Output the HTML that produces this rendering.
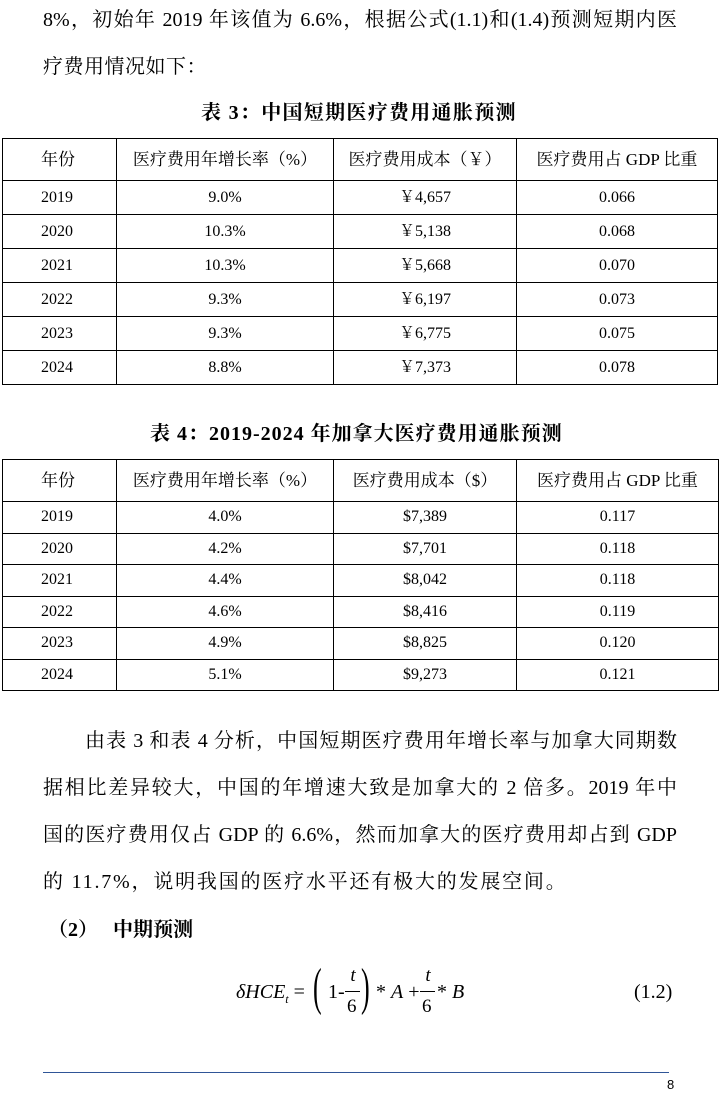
<!DOCTYPE html>
<html><head><meta charset="utf-8"><style>
body{margin:0;width:727px;height:1098px;background:#fff;position:relative;overflow:hidden;font-family:"Liberation Serif","Noto Serif CJK SC","Noto Sans CJK SC",serif;color:#000}
.t{position:absolute;white-space:nowrap;font-size:20px;line-height:26px}
.j{position:absolute;width:634px;font-size:20px;line-height:26px;text-align:justify;text-align-last:justify;white-space:nowrap}
table{position:absolute;border-collapse:collapse;font-size:16px;table-layout:fixed}
td{border:1px solid #000;text-align:center;padding:0;vertical-align:middle;line-height:18px}
td:first-child{text-align:left;padding-left:38px}
.h td{font-size:17px}
.cap{font-weight:bold;font-size:20px}
</style></head><body>
<div class="j" style="left:43px;top:7px">8%，初始年 2019 年该值为 6.6%，根据公式(1.1)和(1.4)预测短期内医</div>
<div class="t" style="left:43px;top:54px;letter-spacing:0.5px">疗费用情况如下：</div>
<div class="t cap" style="left:201px;top:100px;letter-spacing:1.3px">表 3：中国短期医疗费用通胀预测</div>
<table style="left:2px;top:138px;width:715px">
<colgroup><col style="width:114px"><col style="width:217px"><col style="width:183px"><col style="width:201px"></colgroup>
<tr class="h" style="height:42px"><td>年份</td><td>医疗费用年增长率（%）</td><td>医疗费用成本（￥）</td><td>医疗费用占 GDP 比重</td></tr>
<tr style="height:34px"><td>2019</td><td>9.0%</td><td>￥4,657</td><td>0.066</td></tr>
<tr style="height:34px"><td>2020</td><td>10.3%</td><td>￥5,138</td><td>0.068</td></tr>
<tr style="height:34px"><td>2021</td><td>10.3%</td><td>￥5,668</td><td>0.070</td></tr>
<tr style="height:34px"><td>2022</td><td>9.3%</td><td>￥6,197</td><td>0.073</td></tr>
<tr style="height:34px"><td>2023</td><td>9.3%</td><td>￥6,775</td><td>0.075</td></tr>
<tr style="height:34px"><td>2024</td><td>8.8%</td><td>￥7,373</td><td>0.078</td></tr>
</table>
<div class="t cap" style="left:150px;top:421px;letter-spacing:1px">表 4：2019-2024 年加拿大医疗费用通胀预测</div>
<table style="left:2px;top:459px;width:716px">
<colgroup><col style="width:114px"><col style="width:217px"><col style="width:183px"><col style="width:202px"></colgroup>
<tr class="h" style="height:42px"><td>年份</td><td>医疗费用年增长率（%）</td><td>医疗费用成本（$）</td><td>医疗费用占 GDP 比重</td></tr>
<tr style="height:31.5px"><td>2019</td><td>4.0%</td><td>$7,389</td><td>0.117</td></tr>
<tr style="height:31.5px"><td>2020</td><td>4.2%</td><td>$7,701</td><td>0.118</td></tr>
<tr style="height:31.5px"><td>2021</td><td>4.4%</td><td>$8,042</td><td>0.118</td></tr>
<tr style="height:31.5px"><td>2022</td><td>4.6%</td><td>$8,416</td><td>0.119</td></tr>
<tr style="height:31.5px"><td>2023</td><td>4.9%</td><td>$8,825</td><td>0.120</td></tr>
<tr style="height:31.5px"><td>2024</td><td>5.1%</td><td>$9,273</td><td>0.121</td></tr>
</table>
<div class="j" style="left:85px;top:728px;width:592px">由表 3 和表 4 分析，中国短期医疗费用年增长率与加拿大同期数</div>
<div class="j" style="left:43px;top:775px">据相比差异较大，中国的年增速大致是加拿大的 2 倍多。2019 年中</div>
<div class="j" style="left:43px;top:822px">国的医疗费用仅占 GDP 的 6.6%，然而加拿大的医疗费用却占到 GDP</div>
<div class="t" style="left:43px;top:869px;letter-spacing:1.8px">的 11.7%，说明我国的医疗水平还有极大的发展空间。</div>
<div class="t" style="left:48px;top:917px;font-weight:bold">（2）&nbsp;&nbsp;&nbsp;中期预测</div>
<div class="t" style="left:236px;top:979px;font-size:20px"><i>δHCE<sub style="font-size:12px">t</sub></i> =</div>
<div class="t" style="left:313px;top:958px;font-size:52px;line-height:60px;transform:scaleX(0.5);transform-origin:left">(</div>
<div class="t" style="left:328px;top:979px;font-size:20px">1-</div>
<div class="t" style="left:347px;top:963px;font-size:19px;width:12px;text-align:center"><i>t</i></div>
<div style="position:absolute;left:345px;top:991px;width:15px;border-top:1px solid #000"></div>
<div class="t" style="left:347px;top:994px;font-size:19px">6</div>
<div class="t" style="left:361px;top:958px;font-size:52px;line-height:60px;transform:scaleX(0.5);transform-origin:left">)</div>
<div class="t" style="left:376px;top:979px;font-size:20px">* <i>A</i> +</div>
<div class="t" style="left:422px;top:963px;font-size:19px;width:12px;text-align:center"><i>t</i></div>
<div style="position:absolute;left:420px;top:991px;width:15px;border-top:1px solid #000"></div>
<div class="t" style="left:422px;top:994px;font-size:19px">6</div>
<div class="t" style="left:437px;top:979px;font-size:20px">* <i>B</i></div>
<div class="t" style="left:634px;top:979px;font-size:20px">(1.2)</div>
<div style="position:absolute;left:43px;top:1072px;width:626px;border-top:1px solid #2f5597"></div>
<div class="t" style="left:667px;top:1077px;font-size:13px;line-height:16px;font-family:'Liberation Sans',sans-serif">8</div>
</body></html>
